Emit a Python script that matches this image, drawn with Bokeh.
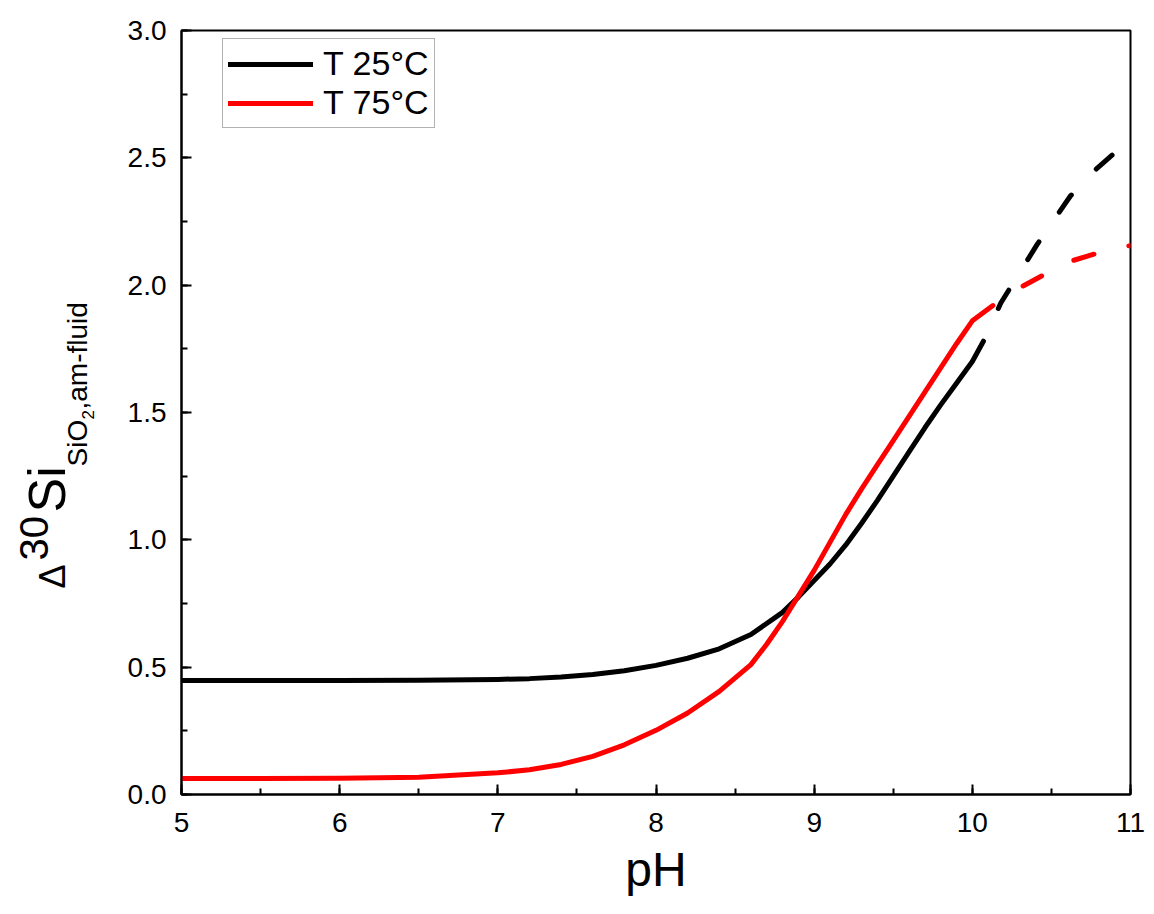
import math
from bokeh.plotting import figure
from bokeh.layouts import row
from bokeh.models import (Legend, LegendItem, SingleIntervalTicker,
                          PrintfTickFormatter, Range1d)
from bokeh.core.properties import value
from bokeh.embed import file_html
from bokeh.resources import INLINE

# ---- data ----
ph_25 = [5.0, 5.5, 6.0, 6.5, 7.0, 7.2, 7.4, 7.6, 7.8, 8.0, 8.2, 8.4, 8.6,
         8.8, 8.9, 9.0, 9.1, 9.2, 9.3, 9.4, 9.5, 9.6, 9.7, 9.8, 9.9, 10.0, 10.07]
d30_25 = [0.448, 0.448, 0.448, 0.449, 0.452, 0.455, 0.461, 0.471, 0.486, 0.507,
          0.535, 0.572, 0.628, 0.715, 0.775, 0.84, 0.905, 0.98, 1.065, 1.155,
          1.25, 1.345, 1.44, 1.53, 1.615, 1.70, 1.78]
ph_25_ext = [10.07, 10.18, 10.41, 10.62, 10.79, 10.92]
d30_25_ext = [1.78, 1.93, 2.16, 2.35, 2.46, 2.53]

ph_75 = [5.0, 5.5, 6.0, 6.5, 7.0, 7.2, 7.4, 7.6, 7.8, 8.0, 8.2, 8.4, 8.6, 8.7,
         8.8, 8.9, 9.0, 9.1, 9.2, 9.3, 9.4, 9.5, 9.6, 9.7, 9.8, 9.9, 10.0, 10.13]
d30_75 = [0.063, 0.063, 0.064, 0.068, 0.085, 0.097, 0.118, 0.150, 0.195, 0.252,
          0.32, 0.405, 0.51, 0.59, 0.68, 0.78, 0.88, 0.99, 1.10, 1.20, 1.295,
          1.39, 1.485, 1.58, 1.675, 1.77, 1.86, 1.92]
ph_75_ext = [10.13, 10.3, 10.6, 10.92, 11.0]
d30_75_ext = [1.92, 1.99, 2.09, 2.15, 2.155]

series_labels = ["T 25°C", "T 75°C"]
FONT = "Liberation Sans"
H = 904
LEFT_W = 100

p = figure(frame_width=949, frame_height=764,
           x_range=Range1d(5, 11), y_range=Range1d(0, 3),
           output_backend="svg", toolbar_location=None,
           min_border_left=181 - LEFT_W, min_border_right=16,
           min_border_top=30, min_border_bottom=H - 30 - 764,
           background_fill_color="white", border_fill_color="white")

p.xgrid.visible = False
p.ygrid.visible = False
p.outline_line_color = "black"
p.outline_line_width = 2
p.outline_line_alpha = 1.0

p.xaxis.ticker = SingleIntervalTicker(interval=1, num_minor_ticks=2)
p.yaxis.ticker = SingleIntervalTicker(interval=0.5, num_minor_ticks=2)
p.yaxis.formatter = PrintfTickFormatter(format="%.1f")

for ax in (p.xaxis[0], p.yaxis[0]):
    ax.axis_line_width = 2
    ax.axis_line_color = "black"
    ax.major_tick_in = 10
    ax.major_tick_out = 0
    ax.minor_tick_in = 6
    ax.minor_tick_out = 0
    ax.major_tick_line_width = 2
    ax.minor_tick_line_width = 2
    ax.major_tick_line_color = "black"
    ax.minor_tick_line_color = "black"
    ax.major_label_text_font = FONT
    ax.major_label_text_font_size = "28px"
    ax.major_label_text_color = "black"
p.xaxis.major_label_standoff = 18
p.yaxis.major_label_standoff = 15

p.xaxis.axis_label = "pH"
p.xaxis.axis_label_text_font = FONT
p.xaxis.axis_label_text_font_size = "48px"
p.xaxis.axis_label_text_font_style = "normal"
p.xaxis.axis_label_text_color = "black"
p.xaxis.axis_label_standoff = 8

LW = 5
r25 = p.line(ph_25, d30_25, line_color="black", line_width=LW, line_cap="round", line_join="round")
p.line(ph_25_ext, d30_25_ext, line_color="black", line_width=LW, line_cap="round",
       line_dash="21 36", line_dash_offset=21)
r75 = p.line(ph_75, d30_75, line_color="#ff0000", line_width=LW, line_cap="round", line_join="round")
p.line(ph_75_ext, d30_75_ext, line_color="#ff0000", line_width=LW, line_cap="round",
       line_dash="21 36", line_dash_offset=21)

legend = Legend(items=[LegendItem(label=series_labels[0], renderers=[r25]),
                       LegendItem(label=series_labels[1], renderers=[r75])],
                location=(41, 666))
legend.label_text_font = FONT
legend.label_text_font_size = "34px"
legend.label_text_color = "black"
legend.glyph_width = 85
legend.glyph_height = 36
legend.label_height = 36
legend.label_standoff = 10
legend.padding = 5
legend.spacing = 0
legend.margin = 0
legend.border_line_color = "#666666"
legend.border_line_width = 1
legend.background_fill_alpha = 1.0
p.add_layout(legend)

# ---- left strip holding the rotated y-axis title (with super/subscripts) ----
q = figure(frame_width=LEFT_W, frame_height=H, title=None,
           x_range=Range1d(0, LEFT_W), y_range=Range1d(0, H),
           output_backend="svg", toolbar_location=None,
           x_axis_location=None, y_axis_location=None,
           min_border=0, min_border_left=0, min_border_right=0,
           min_border_top=0, min_border_bottom=0, outline_line_color=None,
           background_fill_color="white", border_fill_color="white")
q.xgrid.visible = False
q.ygrid.visible = False

ang = math.pi / 2
def piece(text, x, y, size):
    q.text(x=[x], y=[y], text=[text], angle=ang, text_font=value(FONT),
           text_font_size=value(size), text_color="black",
           text_align="left", text_baseline="alphabetic")

piece("Δ", 52, H - 558, "36px")
piece("30", 33, H - 530, "40px")
piece("Si", 46, H - 482, "52px")
piece("SiO", 77, H - 436, "28px")
piece("2", 87, H - 436 + 47, "17px")
piece(",am-fluid", 77, H - 436 + 57, "28px")

layout = row(q, p, spacing=0)
open("out.html", "w").write(file_html(layout, INLINE))
